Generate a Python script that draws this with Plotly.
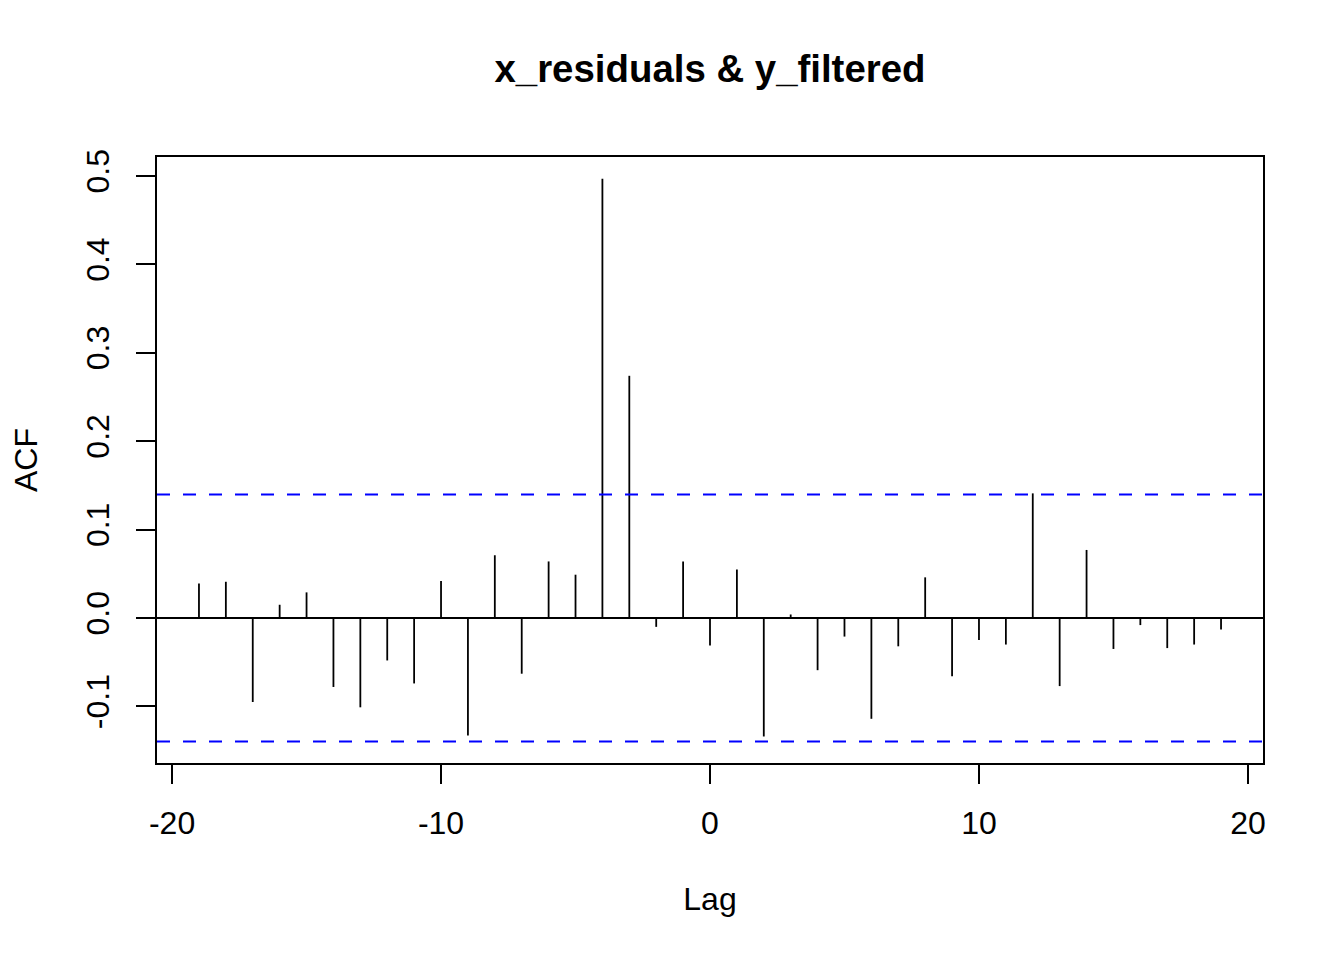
import plotly.graph_objects as go

lags = list(range(-19, 20))
acf_values = [
    0.039, 0.041, -0.095, 0.015, 0.029, -0.078, -0.101, -0.048, -0.074, 0.042,
    -0.133, 0.071, -0.063, 0.064, 0.049, 0.497, 0.274, -0.010, 0.064, -0.031,
    0.055, -0.134, 0.004, -0.059, -0.021, -0.114, -0.032, 0.046, -0.066, -0.025,
    -0.030, 0.141, -0.077, 0.077, -0.035, -0.008, -0.034, -0.030, -0.013,
]
conf_limit = 0.1397
x_ticks = [-20, -10, 0, 10, 20]
y_ticks = [-0.1, 0.0, 0.1, 0.2, 0.3, 0.4, 0.5]

xs, ys = [], []
for lag, v in zip(lags, acf_values):
    xs += [lag, lag, None]
    ys += [0, v, None]

font_family = "Liberation Sans, Arial, Helvetica, sans-serif"

fig = go.Figure()
fig.add_trace(go.Scatter(x=xs, y=ys, mode="lines",
                         line=dict(color="black", width=1.8),
                         hoverinfo="skip", showlegend=False))

# zero line
fig.add_shape(type="line", xref="paper", x0=0, x1=1, yref="y", y0=0, y1=0,
              line=dict(color="black", width=1.8))
# confidence limits
for c in (conf_limit, -conf_limit):
    fig.add_shape(type="line", xref="paper", x0=0, x1=1, yref="y", y0=c, y1=c,
                  line=dict(color="#0000ff", width=2, dash="13px,13px"))

W, H = 1336, 952  # page body has an 8px margin
fig.update_layout(
    width=W, height=H,
    paper_bgcolor="white", plot_bgcolor="white",
    margin=dict(l=149, r=81, t=149, b=197),
    font=dict(family=font_family, size=32, color="black"),
    title=dict(text="<b>x_residuals & y_filtered</b>", x=(710 - 8) / W, xanchor="center",
               y=1 - 61 / H, yanchor="middle", yref="container",
               font=dict(size=38.4, family=font_family, color="black")),
    xaxis=dict(range=[-20.56, 20.56], tickvals=x_ticks, ticktext=[str(t) for t in x_ticks],
               showgrid=False, zeroline=False, showline=True, mirror=True,
               linecolor="black", linewidth=2, ticks="outside", ticklen=19,
               tickwidth=2, tickcolor="black",
               tickfont=dict(size=32), ticklabelstandoff=12,
               title=dict(text="Lag", font=dict(size=32), standoff=47)),
    yaxis=dict(range=[-0.164, 0.5215], tickvals=y_ticks,
               ticktext=[f"{t:.1f}" for t in y_ticks], tickangle=-90,
               showgrid=False, zeroline=False, showline=True, mirror=True,
               linecolor="black", linewidth=2, ticks="outside", ticklen=19,
               tickwidth=2, tickcolor="black",
               tickfont=dict(size=32), ticklabelstandoff=14,
               title=dict(text="ACF", font=dict(size=32), standoff=33)),
)

fig.write_html("out.html")
